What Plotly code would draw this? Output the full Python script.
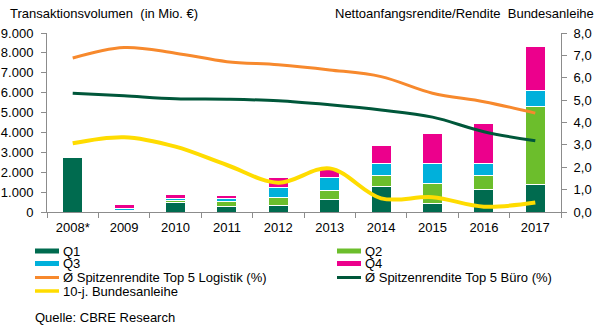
import plotly.graph_objects as go

# Transaction volume per quarter (Mio. €) and yields (%)
years = ["2008*", "2009", "2010", "2011", "2012", "2013", "2014", "2015", "2016", "2017"]
q1 = [2750, 50, 470, 270, 330, 650, 1300, 440, 1110, 1400]
q2 = [None, 50, 130, 240, 400, 415, 555, 1010, 740, 3900]
q3 = [None, 80, 60, 190, 495, 690, 570, 975, 605, 810]
q4 = [None, 220, 200, 130, 505, 400, 925, 1515, 1985, 2190]
logistik = [6.88, 7.35, 7.10, 6.72, 6.58, 6.35, 6.05, 5.31, 4.93, 4.42]
buero = [5.31, 5.19, 5.06, 5.04, 4.97, 4.79, 4.56, 4.24, 3.59, 3.18]
bund = [3.07, 3.34, 2.92, 2.10, 1.31, 1.95, 0.61, 0.66, 0.24, 0.42]

left_ticks = list(range(0, 9001, 1000))
right_ticks = list(range(0, 9))

C_Q1, C_Q2, C_Q3, C_Q4 = "#006B4F", "#6CBE2C", "#00B0DB", "#EC008C"
C_LOG, C_BUE, C_BUND = "#F7892D", "#00573A", "#FFDC00"
AXIS = "#8C8C8C"
FONT = "Liberation Sans, Arial, sans-serif"

W, H = 605, 334
L, R, T, B = 47, 44, 33, 122
PW, PH = W - L - R, H - T - B

fig = go.Figure()
for name, vals, col in [("Q1", q1, C_Q1), ("Q2", q2, C_Q2), ("Q3", q3, C_Q3), ("Q4", q4, C_Q4)]:
    fig.add_trace(go.Bar(x=years, y=vals, name=name, marker=dict(color=col, line=dict(color="white", width=1)),
                         showlegend=False))

for name, vals, col, w in [("Ø Spitzenrendite Top 5 Logistik (%)", logistik, C_LOG, 3),
                           ("Ø Spitzenrendite Top 5 Büro (%)", buero, C_BUE, 3),
                           ("10-j. Bundesanleihe", bund, C_BUND, 4)]:
    fig.add_trace(go.Scatter(x=years, y=vals, name=name, yaxis="y2", mode="lines",
                             line=dict(color=col, width=w, shape="spline", smoothing=1.0),
                             showlegend=False))


def px_x(x):
    return (x - L) / PW


def px_y(y):
    return (H - B - y) / PH


shapes = []
annotations = []
# legend, two columns
legend_items = [
    ("Q1", C_Q1, 5, 35, 251), ("Q2", C_Q2, 5, 337, 251),
    ("Q3", C_Q3, 5, 35, 263.5), ("Q4", C_Q4, 5, 337, 263.5),
    ("Ø Spitzenrendite Top 5 Logistik (%)", C_LOG, 3, 35, 277.5),
    ("Ø Spitzenrendite Top 5 Büro (%)", C_BUE, 3, 337, 277.5),
    ("10-j. Bundesanleihe", C_BUND, 3.5, 35, 291),
]
for text, col, lw, x0, y0 in legend_items:
    shapes.append(dict(type="line", xref="paper", yref="paper", x0=px_x(x0), x1=px_x(x0 + 24),
                       y0=px_y(y0), y1=px_y(y0), line=dict(color=col, width=lw)))
    annotations.append(dict(text=text, xref="paper", yref="paper", x=px_x(x0 + 26), y=px_y(y0),
                            xanchor="left", yanchor="middle", showarrow=False,
                            font=dict(family=FONT, size=13, color="#000")))

annotations += [
    dict(text="Transaktionsvolumen  (in Mio. €)", xref="paper", yref="paper", x=px_x(8), y=px_y(14),
         xanchor="left", yanchor="middle", showarrow=False, font=dict(family=FONT, size=13, color="#000")),
    dict(text="Nettoanfangsrendite/Rendite  Bundesanleihe", xref="paper", yref="paper", x=px_x(596), y=px_y(14),
         xanchor="right", yanchor="middle", showarrow=False, font=dict(family=FONT, size=13, color="#000")),
    dict(text="Quelle: CBRE Research", xref="paper", yref="paper", x=px_x(33), y=px_y(317),
         xanchor="left", yanchor="middle", showarrow=False, font=dict(family=FONT, size=13, color="#000")),
]

fig.update_layout(
    template="none",
    width=W, height=H, margin=dict(l=L, r=R, t=T, b=B, pad=0, autoexpand=False),
    paper_bgcolor="white", plot_bgcolor="white",
    barmode="stack", bargap=0.61, separators=",.",
    font=dict(family=FONT, size=13, color="#000"),
    xaxis=dict(type="category", showline=True, linecolor=AXIS, linewidth=1, ticks="outside",
               tickson="boundaries", ticklen=5, tickcolor=AXIS, showgrid=False, ticklabelstandoff=3,
               automargin=False, tickfont=dict(family=FONT, size=13, color="#000")),
    yaxis=dict(range=[0, 9000], tickvals=left_ticks, tickformat=",d", showline=True, linecolor=AXIS,
               linewidth=1, ticks="outside", ticklen=5, tickcolor=AXIS, showgrid=False, zeroline=False,
               ticklabelstandoff=5, automargin=False, tickfont=dict(family=FONT, size=13, color="#000")),
    yaxis2=dict(range=[0, 8], tickvals=right_ticks, tickformat=".1f", ticksuffix="%", overlaying="y",
                side="right", showline=True, linecolor=AXIS, linewidth=1, ticks="outside", ticklen=5,
                tickcolor=AXIS, showgrid=False, zeroline=False, ticklabelstandoff=4, automargin=False,
                tickfont=dict(family=FONT, size=13, color="#000")),
    shapes=shapes, annotations=annotations, showlegend=False,
)

fig.write_html("out.html")
